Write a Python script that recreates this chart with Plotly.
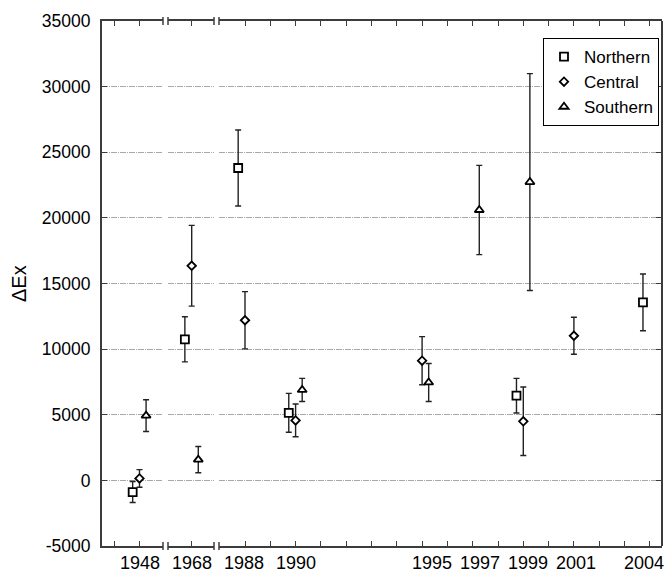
import plotly.graph_objects as go

# ---------------- data ----------------
years = [1948, 1968, 1988, 1990, 1995, 1997, 1999, 2001, 2004]
northern = [-890, 10750, 23800, 5150, None, None, 6450, None, 13560]
northern_err = [800, 1720, 2900, 1480, None, None, 1320, None, 2160]
central = [150, 16350, 12200, 4570, 9120, None, 4500, 11020, None]
central_err = [670, 3075, 2180, 1250, 1830, None, 2610, 1410, None]
southern = [4930, 1580, None, 6890, 7460, 20600, 22730, None, None]
southern_err = [1210, 1000, None, 880, 1450, 3400, 8260, None, None]
y_ticks = [-5000, 0, 5000, 10000, 15000, 20000, 25000, 30000, 35000]

# ---------------- layout config (broken x axis) ----------------
year_axis = {1948: "x", 1968: "x2", 1988: "x3", 1990: "x3", 1995: "x3",
             1997: "x3", 1999: "x3", 2001: "x3", 2004: "x3"}
year_slot = {1948: 2, 1968: 0, 1988: 0, 1990: 2, 1995: 7, 1997: 9,
             1999: 11, 2001: 13, 2004: 16}
label_pos = {1948: 2.0, 1968: 0.0, 1988: -0.05, 1990: 2.0, 1995: 7.39,
             1997: 9.29, 1999: 11.17, 2001: 13.08, 2004: 15.77}
offsets = {"Northern": -0.27, "Central": 0.0, "Southern": 0.26}

series = [
    ("Northern", northern, northern_err, "square", 8),
    ("Central", central, central_err, "diamond", 6.5),
    ("Southern", southern, southern_err, "triangle-up", 8),
]

AX = "#3c3c3c"
FONT = "Liberation Sans, Arial, sans-serif"

fig = go.Figure()
for name, vals, errs, sym, size in series:
    first = True
    for axname in ["x", "x2", "x3"]:
        xs, ys, es = [], [], []
        for yr, v, e in zip(years, vals, errs):
            if v is None or year_axis[yr] != axname:
                continue
            xs.append(year_slot[yr] + offsets[name])
            ys.append(v)
            es.append(e)
        if not xs:
            continue
        fig.add_trace(go.Scatter(
            x=xs, y=ys, xaxis=axname, yaxis="y", mode="markers", name=name,
            legendgroup=name, showlegend=first,
            marker=dict(symbol=sym, size=size, color="white",
                        line=dict(color="black", width=1.8)),
            error_y=dict(type="data", array=es, visible=True,
                         color="#222", thickness=1.4, width=3),
        ))
        first = False

# empty helper trace so the right-hand (mirror) y axis is drawn
fig.add_trace(go.Scatter(x=[None], y=[None], xaxis="x3", yaxis="y2",
                         mode="markers", showlegend=False, hoverinfo="skip"))

W, H = 665, 572
L, R, T, B = 102, 3, 21, 26
pw = W - L - R  # 560
U = 25.3  # px per slot

def dom(a, b):
    return [(a - L) / pw, (b - L) / pw]

segs = {
    "x": dict(px=(102, 163), tick0px=139.5, tick0val=2, ticks=[1, 2]),
    "x2": dict(px=(168, 214), tick0px=191.7, tick0val=0, ticks=[0]),
    "x3": dict(px=(219, 662), tick0px=245, tick0val=0, ticks=list(range(0, 17))),
}

layout_axes = {}
for axname, s in segs.items():
    a, b = s["px"]
    r0 = s["tick0val"] - (s["tick0px"] - a) / U
    r1 = s["tick0val"] + (b - s["tick0px"]) / U
    key = "xaxis" if axname == "x" else "xaxis" + axname[1:]
    layout_axes[key] = dict(
        domain=dom(a, b), range=[r0, r1], anchor="y",
        showline=True, linecolor=AX, linewidth=2, mirror="ticks",
        tickmode="array", tickvals=s["ticks"], showticklabels=False,
        ticks="inside", ticklen=5, tickwidth=1.2, tickcolor=AX,
        showgrid=False, zeroline=False,
    )

fig.update_layout(
    width=W, height=H,
    margin=dict(l=L, r=R, t=T, b=B, autoexpand=False),
    paper_bgcolor="white", plot_bgcolor="white",
    font=dict(family=FONT, size=17, color="black"),
    **layout_axes,
    yaxis=dict(
        range=[-5000, 35000], tickvals=y_ticks, ticktext=[str(v) for v in y_ticks],
        tickmode="array", anchor="x",
        showline=True, linecolor=AX, linewidth=2,
        ticks="inside", ticklen=5, tickwidth=1.2, tickcolor=AX,
        showgrid=True, gridcolor="#a8a8a8", gridwidth=1, griddash="6px,1px,1px,1px",
        zeroline=False, ticklabelstandoff=6,
        tickfont=dict(family=FONT, size=17.5, color="black"),
    ),
    yaxis2=dict(
        range=[-5000, 35000], tickvals=y_ticks, tickmode="array",
        anchor="free", position=1, overlaying="y", side="right",
        showline=True, linecolor=AX, linewidth=2,
        ticks="inside", ticklen=5, tickwidth=1.2, tickcolor=AX,
        showticklabels=False, showgrid=False, zeroline=False,
    ),
    legend=dict(
        x=(543 - L) / pw, y=(546 - 38) / (H - T - B), xanchor="left", yanchor="top",
        bgcolor="white", bordercolor="black", borderwidth=1,
        font=dict(family=FONT, size=17, color="black"),
        tracegroupgap=0, itemwidth=30,
    ),
    showlegend=True,
)

# year labels under the broken x axis
for yr in years:
    fig.add_annotation(
        text=str(yr), xref=year_axis[yr], yref="paper", x=label_pos[yr], y=0,
        xanchor="center", yanchor="middle", yshift=-17, showarrow=False,
        font=dict(family=FONT, size=18, color="black"),
    )

# y-axis title
fig.add_annotation(
    text="ΔEx", xref="paper", yref="paper", x=(18.5 - L) / pw, y=0.5,
    xanchor="center", yanchor="middle", textangle=-90, showarrow=False,
    font=dict(family=FONT, size=20, color="black"),
)

# axis break marks at the segment ends (top and bottom)
for px in [163, 168, 214, 219]:
    for yv in [0, 1]:
        fig.add_shape(
            type="line", xref="paper", yref="paper",
            x0=(px - L) / pw, x1=(px - L) / pw,
            ysizemode="pixel", yanchor=yv, y0=-4, y1=4,
            line=dict(color=AX, width=1.5),
        )

fig.write_html("out.html", post_script="document.body.style.margin='0';",
               config={"displayModeBar": False})
